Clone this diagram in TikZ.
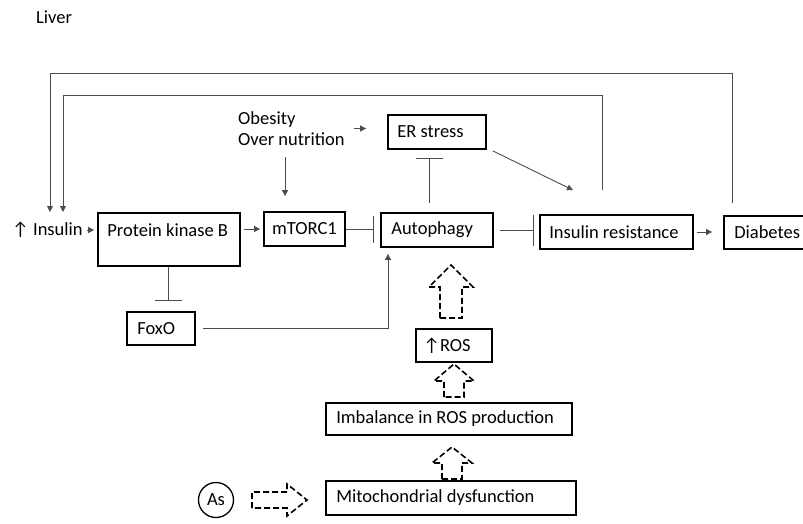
\documentclass[tikz,border=0pt]{standalone}
\usepackage{fontspec}
\setmainfont{Carlito}
\usetikzlibrary{arrows.meta,calc}
\begin{document}
\begin{tikzpicture}[x=1pt,y=-1pt,
  every node/.style={font=\fontsize{18.5}{21}\selectfont, inner sep=0pt, align=left},
  box/.style={draw=black, line width=1.8pt, inner sep=0pt},
  conn/.style={draw=black!70, line width=0.9pt},
  arr/.style={-{Triangle[length=6pt,width=6pt]}},
  inh/.style={-{Bar[width=#1]}},
  inh/.default=27pt,
  blk/.style={draw=black, line width=1.6pt, dash pattern=on 6pt off 3pt, line join=miter},
  lbl/.style={anchor=west}
]
\useasboundingbox (0,0) rectangle (803,523);

% title
\node[lbl] (liver) at (36,17) {Liver};

% boxes
\node[box, minimum width=142pt, minimum height=53pt] (pkb) at (169,239.5) {};
\node[lbl] (pkbt) at ([xshift=10pt]pkb.west |- 0,230) {Protein kinase B};
\node[box, minimum width=81pt, minimum height=34pt] (mtor) at (304.5,229) {mTORC1};
\node[box, minimum width=112pt, minimum height=34pt] (auto) at (437,230) {};
\node[lbl] (autot) at ([xshift=11pt]auto.west) {Autophagy};
\node[box, minimum width=98pt, minimum height=34pt] (er) at (437,132) {};
\node[lbl] (ert) at ([xshift=10pt]er.west) {ER stress};
\node[box, minimum width=153pt, minimum height=34pt] (ir) at (616.5,232) {};
\node[lbl] (irt) at ([xshift=10pt]ir.west) {Insulin resistance};
\node[box, minimum width=86pt, minimum height=33pt] (dia) at (767,232.5) {};
\node[lbl] (diat) at ([xshift=11pt]dia.west) {Diabetes};
\node[box, minimum width=68pt, minimum height=33pt] (foxo) at (161,328.5) {};
\node[lbl] (foxot) at ([xshift=11pt]foxo.west) {FoxO};
\node[box, minimum width=76pt, minimum height=33pt] (ros) at (454,345.5) {};
\node[lbl] (rost) at ([xshift=8pt]ros.west) {↑ROS};
\node[box, minimum width=246pt, minimum height=32pt] (imb) at (449,419) {};
\node[lbl] (imbt) at ([xshift=11pt]imb.west) {Imbalance in ROS production};
\node[box, minimum width=250pt, minimum height=34pt] (mito) at (451,498) {};
\node[lbl] (mitot) at ([xshift=11pt]mito.west) {Mitochondrial dysfunction};
\node[draw=black, line width=1.3pt, circle, minimum size=35pt] (as) at (216,500) {As};

% free text
\node[lbl] (ins) at (12,230) {↑ Insulin};
\node[lbl] (obes) at (238,128.5) {Obesity\\Over nutrition};

% coordinates for free ends
\coordinate (otop) at (50,73);
\coordinate (oend) at (50,212);
\coordinate (itop) at (63,95);
\coordinate (iend) at (63,212);
\coordinate (ob1) at (285,157);

% connectors
\draw[conn,arr] ([xshift=4pt]ins.east) -- ([xshift=-3pt]ins.east -| pkb.west);
\draw[conn,arr] ([xshift=3pt]pkb.east |- mtor.west) -- ([xshift=-3pt]mtor.west);
\draw[conn,inh] (mtor.east) -- ([xshift=-6pt]auto.west |- mtor.east);
\draw[conn,inh=31pt] ([xshift=6pt]auto.east) -- ([xshift=-5pt]ir.west |- auto.east);
\draw[conn,inh] ([shift={(-8pt,9pt)}]auto.north) -- ([shift={(-8pt,-8pt)}]er.south);
\draw[conn,arr] ([shift={(6pt,-1pt)}]er.south east) -- ([shift={(-43.5pt,24pt)}]ir.north);
\draw[conn,arr] ([xshift=9pt]obes.east) -- ([xshift=-21pt]er.west |- obes.east);
\draw[conn,arr] (ob1) -- ([shift={(-19.5pt,15pt)}]mtor.north);
\draw[conn,inh] ([xshift=-1pt]pkb.south) -- ([shift={(7pt,10pt)}]foxo.north);
\draw[conn,arr] ([xshift=7pt]foxo.east) -| ([shift={(-49pt,-6pt)}]auto.south);
\draw[conn,arr] ([xshift=3pt]ir.east) -- ([xshift=-11pt]dia.west |- ir.east);
\draw[conn,arr] ([shift={(9pt,12pt)}]dia.north west) |- (otop) -- (oend);
\draw[conn,arr] ([shift={(-14.5pt,24pt)}]ir.north) |- (itop) -- (iend);

% dashed block arrows
\draw[blk] (440,318) -- (440,287) -- (429,287) -- (451,265) -- (473,287) -- (462,287) -- (462,318) -- cycle;
\draw[blk] (444,397) -- (444,381) -- (434,381) -- (454,364) -- (474,381) -- (464,381) -- (464,397) -- cycle;
\draw[blk] (442,479) -- (442,463) -- (432,463) -- (452,447) -- (472,463) -- (462,463) -- (462,479) -- cycle;
\draw[blk] (252,508) -- (252,492) -- (287,492) -- (287,484) -- (307,500) -- (287,516) -- (287,508) -- cycle;
\end{tikzpicture}
\end{document}
